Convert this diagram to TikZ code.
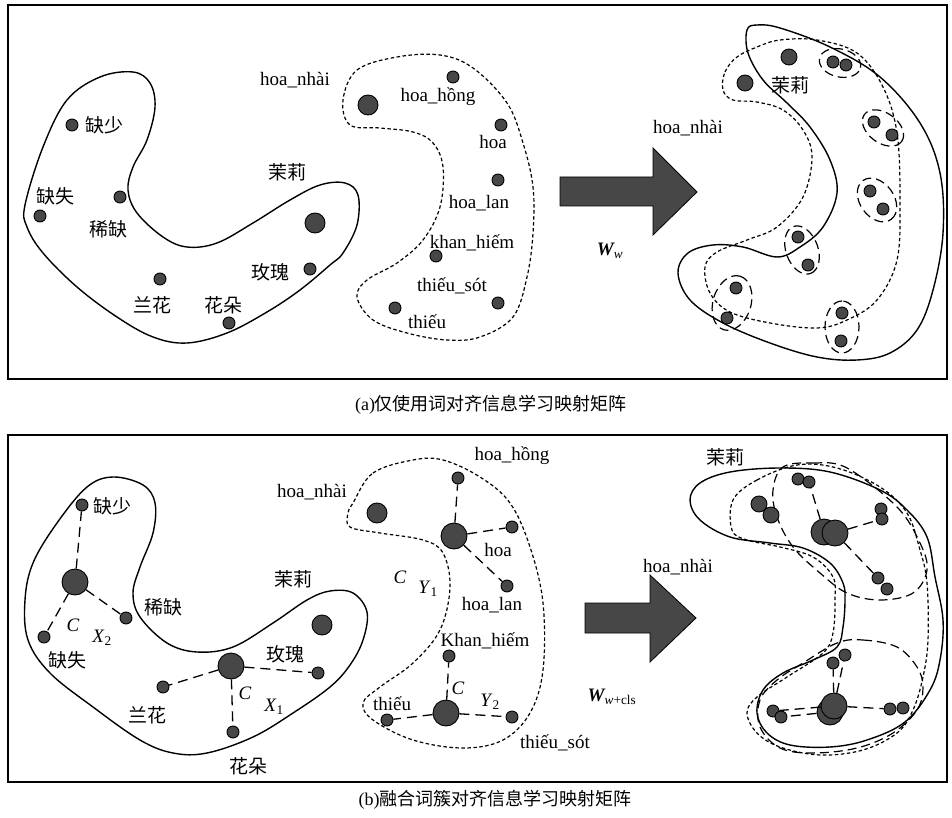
\documentclass[tikz,border=0pt]{standalone}
\usepackage{fontspec}
\setmainfont{Liberation Serif}
\newfontfamily\cjk{Noto Sans CJK SC}
\usetikzlibrary{positioning}
\definecolor{dotgray}{HTML}{474747}

\begin{document}
\begin{tikzpicture}[x=1pt,y=-1pt, every node/.style={font=\fontsize{19}{22}\selectfont, inner sep=1pt},
    dot/.style={circle, draw=black, line width=0.9pt, fill=dotgray, inner sep=0pt, minimum size=#1},
    sdot/.style={dot=12pt}, mdot/.style={dot=16pt}, bdot/.style={dot=20pt}, hdot/.style={dot=26pt},
    blob/.style={line width=1.4pt},
    sdash/.style={line width=1.2pt, dash pattern=on 3.5pt off 2.5pt},
    ldash/.style={line width=1.2pt, dash pattern=on 9pt off 5pt},
    link/.style={line width=1.3pt, dash pattern=on 10pt off 6pt},
    bigarrow/.style={fill=dotgray, draw=black, line width=0.8pt},
    frame/.style={line width=1.5pt}]
  \useasboundingbox (0,0) rectangle (952,818);

  % frames and captions
  \draw[frame] (8,5) rectangle (947,379);
  \draw[frame] (8,435) rectangle (947,782);
  \node[font=\fontsize{18}{20}\selectfont] (capa) at (491,405) {(a){\cjk 仅使用词对齐信息学习映射矩阵}};
  \node[font=\fontsize{18}{20}\selectfont] (capb) at (495,800) {(b){\cjk 融合词簇对齐信息学习映射矩阵}};

  % ---------- (a) ----------
  \draw[blob] plot[smooth cycle, tension=0.6] coordinates {(25,205) (43,147) (67,100) (100,77) (133,72) (150,83) (155,107) (147,140) (133,167) (128,190) (137,213) (163,237) (187,247) (217,243) (253,223) (290,200) (320,185) (345,183) (358,195) (357,225) (343,253) (330,265) (300,290) (267,312) (227,333) (187,343) (153,337) (117,317) (77,287) (43,253) (27,227)};
  \draw[sdash] plot[smooth cycle, tension=0.6] coordinates {(343,100) (357,70) (397,57) (440,55) (473,68) (507,103) (523,143) (533,187) (533,233) (527,277) (513,317) (480,337) (447,340) (407,333) (373,320) (357,297) (367,280) (397,263) (423,240) (440,207) (443,167) (433,143) (413,132) (380,128) (350,125)};

  \node[sdot] (aqs) at (72,125) {};  \node[right=6pt of aqs, font=\cjk\fontsize{19}{22}\selectfont] {缺少};
  \node[sdot] (aqsh) at (40,216) {}; \node[font=\cjk\fontsize{19}{22}\selectfont] at (55,196) {缺失};
  \node[sdot] (axq) at (120,197) {}; \node[font=\cjk\fontsize{19}{22}\selectfont] at (108,229) {稀缺};
  \node[bdot] (aml) at (315,223) {}; \node[font=\cjk\fontsize{19}{22}\selectfont] at (287,172) {茉莉};
  \node[sdot] (amg) at (310,269) {}; \node[font=\cjk\fontsize{19}{22}\selectfont] at (270,272) {玫瑰};
  \node[sdot] (alh) at (160,279) {}; \node[font=\cjk\fontsize{19}{22}\selectfont] at (152,305) {兰花};
  \node[sdot] (ahd) at (229,323) {}; \node[font=\cjk\fontsize{19}{22}\selectfont] at (223,305) {花朵};

  \node (lnhai) at (295,80) {hoa\_nhài};
  \node[bdot] (anh) at (368,105) {};
  \node[sdot] (ahong) at (453,77) {};  \node at (438,97) {hoa\_hồng};
  \node[sdot] (ahoa) at (501,125) {};  \node at (493,142) {hoa};
  \node[sdot] (alan) at (498,180) {};  \node at (479,203) {hoa\_lan};
  \node[sdot] (akh) at (436,256) {};   \node at (472,243) {khan\_hiếm};
  \node[sdot] (aths) at (498,303) {};  \node at (452,286) {thiếu\_sót};
  \node[sdot] (ath) at (395,308) {};   \node at (427,322) {thiếu};

  \draw[bigarrow] (560,177) -- (653,177) -- (653,148) -- (697,192) -- (653,235) -- (653,206) -- (560,206) -- cycle;
  \node (wa) at (610,251) {{\bfseries\itshape W}\textsubscript{\itshape w}};
  \node (rnhai) at (688,128) {hoa\_nhài};

  \draw[blob] plot[smooth cycle, tension=0.6] coordinates {(747,30) (757,25) (780,28) (830,47) (880,77) (920,123) (940,173) (943,233) (933,290) (917,330) (890,353) (857,360) (817,357) (770,343) (723,323) (690,300) (678,273) (688,253) (713,245) (743,247) (777,257) (800,247) (823,227) (837,193) (830,160) (810,127) (787,103) (763,80) (748,53)};
  \draw[sdash] plot[smooth cycle, tension=0.6] coordinates {(723,90) (725,72) (737,57) (757,47) (780,40) (817,40) (857,53) (883,87) (897,133) (900,200) (897,260) (877,300) (847,320) (817,328) (770,323) (730,312) (710,293) (705,267) (717,252) (747,240) (777,227) (803,197) (812,157) (803,130) (783,110) (757,102) (733,100)};

  \node[mdot] (rml1) at (789,57) {};
  \node[mdot] (rml2) at (745,83) {};
  \node[font=\cjk\fontsize{19}{22}\selectfont] at (790,85) {茉莉};
  \foreach \i/\ax/\ay/\bx/\by in {1/833/62/846/65, 2/874/122/892/135, 3/870/191/883/209,
                                4/798/237/808/265, 5/736/288/727/318, 6/842/313/841/341}
    \node[sdot] (rp\i a) at (\ax,\ay) {} node[sdot] (rp\i b) at (\bx,\by) {};
  \foreach \cx/\cy/\rx/\ry/\ang in {840/63/21/14/-13, 883/128/23/15/-36, 877/200/24/17/-54,
                                    802/250/25/16/-70, 732/303/28/19/73, 842/327/26/17/90}
    \draw[ldash] (\cx,\cy) circle [x radius=\rx pt, y radius=\ry pt, rotate=\ang];

  % ---------- (b) ----------
  \draw[blob] plot[smooth cycle, tension=0.6] coordinates {(25,600) (33,563) (57,523) (87,487) (113,477) (143,485) (155,503) (153,533) (140,567) (133,593) (140,617) (167,643) (197,652) (233,647) (273,623) (307,600) (330,591) (353,593) (367,612) (363,640) (350,665) (330,687) (293,713) (253,737) (207,753) (173,753) (140,740) (93,707) (50,673) (28,640)};
  \draw[sdash] plot[smooth cycle, tension=0.6] coordinates {(353,503) (373,473) (413,460) (443,460) (480,477) (510,503) (530,547) (543,603) (543,670) (530,713) (503,740) (463,748) (413,740) (373,720) (363,703) (380,687) (413,663) (440,630) (450,587) (443,553) (423,540) (380,533) (350,527) (348,513)};

  \node[hdot] (bc2) at (75,582) {};
  \node[sdot] (bqs) at (82,505) {};  \node[font=\cjk\fontsize{19}{22}\selectfont] at (112,506) {缺少};
  \node[sdot] (bxq) at (126,618) {}; \node[font=\cjk\fontsize{19}{22}\selectfont] at (163,607) {稀缺};
  \node[sdot] (bqsh) at (44,637) {}; \node[font=\cjk\fontsize{19}{22}\selectfont] at (67,660) {缺失};
  \node at (73,625) {\itshape C};
  \node at (102,638) {\textit{X}\textsubscript{2}};
  \draw[link] (bc2) -- (bqs);
  \draw[link] (bc2) -- (bxq);
  \draw[link] (bc2) -- (bqsh);

  \node[font=\cjk\fontsize{19}{22}\selectfont] at (293,579) {茉莉};
  \node[bdot] (bml) at (322,625) {};
  \node[hdot] (bc1) at (231,666) {};
  \node[sdot] (bmg) at (318,673) {}; \node[font=\cjk\fontsize{19}{22}\selectfont] at (285,654) {玫瑰};
  \node[sdot] (blh) at (163,687) {}; \node[font=\cjk\fontsize{19}{22}\selectfont] at (147,715) {兰花};
  \node[sdot] (bhd) at (233,732) {}; \node[font=\cjk\fontsize{19}{22}\selectfont] at (248,766) {花朵};
  \node at (245,693) {\itshape C};
  \node at (274,707) {\textit{X}\textsubscript{1}};
  \draw[link] (bc1) -- (blh);
  \draw[link] (bc1) -- (bmg);
  \draw[link] (bc1) -- (bhd);

  \node (bnhai) at (312,492) {hoa\_nhài};
  \node[bdot] (bnh) at (377,513) {};
  \node[hdot] (by1) at (454,536) {};
  \node[sdot] (bhong) at (458,478) {}; \node at (512,456) {hoa\_hồng};
  \node[sdot] (bhoa) at (512,527) {};  \node at (498,550) {hoa};
  \node[sdot] (blan) at (507,586) {};  \node at (492,605) {hoa\_lan};
  \node at (400,577) {\itshape C};
  \node at (428,589) {\textit{Y}\textsubscript{1}};
  \draw[link] (by1) -- (bhong);
  \draw[link] (by1) -- (bhoa);
  \draw[link] (by1) -- (blan);

  \node[hdot] (by2) at (446,713) {};
  \node[sdot] (bkh) at (449,656) {};   \node at (485,641) {Khan\_hiếm};
  \node[sdot] (bth) at (387,720) {};   \node at (392,704) {thiếu};
  \node[sdot] (bths) at (512,717) {};  \node at (555,743) {thiếu\_sót};
  \node at (458,688) {\itshape C};
  \node at (490,702) {\textit{Y}\textsubscript{2}};
  \draw[link] (by2) -- (bkh);
  \draw[link] (by2) -- (bth);
  \draw[link] (by2) -- (bths);

  \draw[bigarrow] (585,603) -- (650,603) -- (650,575) -- (696,618) -- (650,662) -- (650,633) -- (585,633) -- cycle;
  \node (wb) at (612,697) {{\bfseries\itshape W}\textsubscript{\itshape w\upshape +cls}};
  \node (rbnhai) at (678,567) {hoa\_nhài};
  \node[font=\cjk\fontsize{19}{22}\selectfont] at (725,457) {茉莉};

  \draw[blob] plot[smooth cycle, tension=0.6] coordinates {(690,500) (700,483) (730,472) (780,468) (830,472) (880,490) (907,510) (927,537) (935,577) (943,620) (940,660) (930,690) (905,722) (867,740) (830,747) (790,745) (767,733) (757,713) (763,690) (783,673) (813,660) (837,647) (843,627) (845,600) (843,583) (830,563) (803,548) (770,543) (730,537) (700,520)};
  \draw[sdash] plot[smooth cycle, tension=0.6] coordinates {(733,500) (757,480) (797,465) (837,468) (880,487) (907,513) (920,550) (927,583) (928,640) (923,677) (913,710) (897,733) (863,750) (820,755) (780,747) (757,733) (747,713) (757,697) (787,677) (823,653) (833,633) (835,600) (833,577) (813,557) (780,547) (747,540) (732,530)};
  \draw[ldash] plot[smooth cycle, tension=0.6] coordinates {(783,467) (813,463) (847,468) (897,507) (920,543) (927,570) (913,593) (880,600) (847,593) (820,573) (793,547) (777,517) (773,490)};
  \draw[ldash] plot[smooth cycle, tension=0.6] coordinates {(837,643) (863,640) (897,647) (917,667) (923,687) (917,710) (893,733) (857,748) (813,753) (780,748) (760,727) (760,700) (777,680) (803,663)};

  \node[hdot] (ub1) at (824,532) {};
  \node[hdot] (ub2) at (835,533) {};
  \node[sdot] (up1) at (798,479) {}; \node[sdot] (up2) at (809,482) {};
  \node[mdot] (um1) at (759,504) {}; \node[mdot] (um2) at (771,515) {};
  \node[sdot] (ur1) at (881,509) {}; \node[sdot] (ur2) at (882,519) {};
  \node[sdot] (ud1) at (878,578) {}; \node[sdot] (ud2) at (887,589) {};
  \draw[link] (ub1) -- (up2);
  \draw[link] (ub2) -- (ur2);
  \draw[link] (ub2) -- (ud1);
  \draw[link] (um1) -- (um2);

  \node[hdot] (lb2) at (830,712) {};
  \node[hdot] (lb1) at (834,706) {};
  \node[sdot] (lu1) at (833,663) {}; \node[sdot] (lu2) at (845,655) {};
  \node[sdot] (ll1) at (773,711) {}; \node[sdot] (ll2) at (781,717) {};
  \node[sdot] (lr1) at (890,709) {}; \node[sdot] (lr2) at (903,708) {};
  \draw[link] (lb1) -- (lu1);
  \draw[link] (lb1) -- (lu2);
  \draw[link] (lb1) -- (ll1);
  \draw[link] (lb2) -- (ll2);
  \draw[link] (lb1) -- (lr1);
\end{tikzpicture}
\end{document}
